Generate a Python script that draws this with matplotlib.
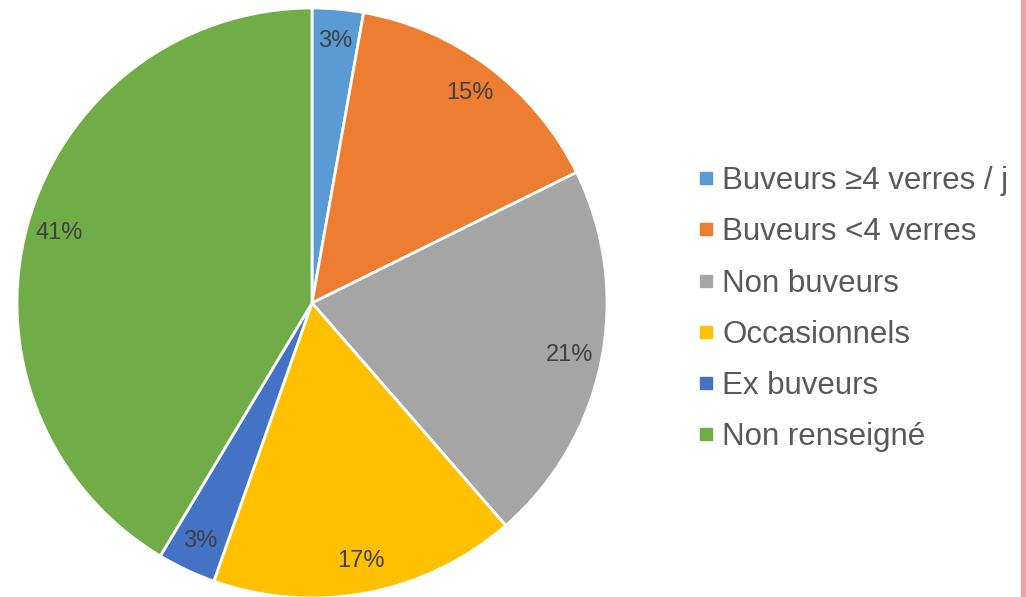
import matplotlib
matplotlib.use("Agg")
import matplotlib.pyplot as plt
from matplotlib.lines import Line2D
from matplotlib.patches import Rectangle

plt.rcParams["font.family"] = ["Liberation Sans", "DejaVu Sans"]

labels = ["Buveurs \u22654 verres / j", "Buveurs <4 verres", "Non buveurs",
          "Occasionnels", "Ex buveurs", "Non renseign\u00e9"]
shares = [2.8, 14.9, 20.9, 16.8, 3.2, 41.4]
colors = ["#5B9BD5", "#ED7D31", "#A5A5A5", "#FFC000", "#4472C4", "#70AD47"]

W, H = 1026, 597
fig = plt.figure(figsize=(W / 100, H / 100), dpi=100)
ax = fig.add_axes([0, 0, 1, 1])

wedges, texts, autotexts = ax.pie(
    shares, colors=colors, startangle=90, counterclock=False,
    center=(312, H - 303), radius=295,
    autopct="%.0f%%", pctdistance=0.89,
    wedgeprops=dict(edgecolor="white", linewidth=2),
    textprops=dict(color="#404040", fontsize=17),
    frame=True,
)
ax.set_xlim(0, W)
ax.set_ylim(0, H)
ax.set_aspect("equal")
ax.axis("off")

handles = [Line2D([0], [0], marker="s", linestyle="none", markersize=8,
                  markerfacecolor=c, markeredgecolor=c) for c in colors]
leg = fig.legend(handles, labels, loc="upper left", bbox_to_anchor=(697 / W, 1 - 166 / H),
                 frameon=False, fontsize=22.5, labelspacing=0.68,
                 handlelength=0.6, handletextpad=0.2, borderpad=0, borderaxespad=0)
for t in leg.get_texts():
    t.set_color("#595959")

# pink border strip on the right edge
fig.patches.append(Rectangle((1021 / W, 0), 5 / W, 1, transform=fig.transFigure,
                             facecolor="#F4A0A0", edgecolor="none"))

fig.savefig("out.png", dpi=100)
